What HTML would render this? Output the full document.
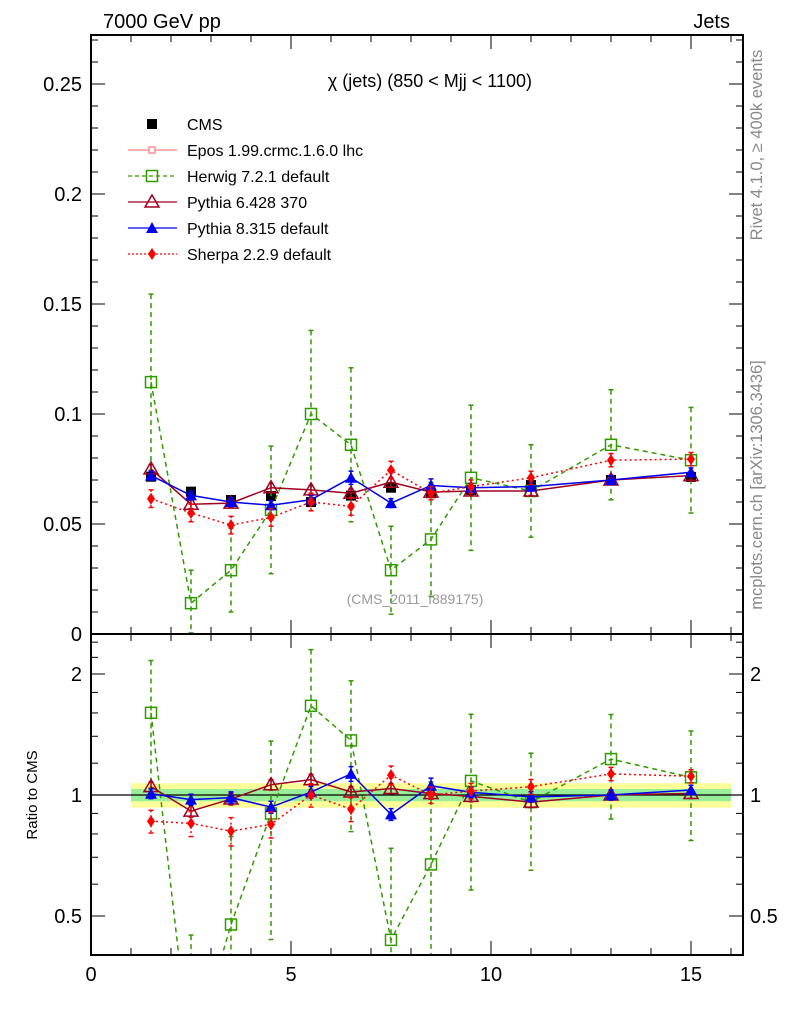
<!DOCTYPE html>
<html><head><meta charset="utf-8"><style>
html,body{margin:0;padding:0;background:#fff;overflow:hidden;width:786px;height:1024px;}
svg{display:block;font-family:"Liberation Sans",sans-serif;}
</style></head><body>
<svg id="c" width="786" height="1024" xmlns="http://www.w3.org/2000/svg"></svg>
<script>
const xCenters=[1.5,2.5,3.5,4.5,5.5,6.5,7.5,8.5,9.5,11,13,15];
const xLo=[1,2,3,4,5,6,7,8,9,10,12,14];
const xHi=[2,3,4,5,6,7,8,9,10,12,14,16];
const cmsVals=[0.0715,0.0647,0.0609,0.0627,0.0600,0.0629,0.0665,0.0640,0.0655,0.0677,0.0700,0.0714];
const herwigVals=[0.1145,0.0140,0.0290,0.0564,0.1000,0.0860,0.0290,0.0430,0.0710,0.0650,0.0860,0.0790];
const herwigErr=[0.040,0.015,0.019,0.029,0.038,0.035,0.020,0.026,0.033,0.021,0.025,0.024];
const pythia6Vals=[0.0750,0.0590,0.0595,0.0665,0.0655,0.0640,0.0690,0.0645,0.0650,0.0650,0.0700,0.0720];
const pythia6Err=[0.002,0.002,0.002,0.002,0.002,0.002,0.002,0.002,0.002,0.002,0.002,0.002];
const pythia8Vals=[0.0720,0.0630,0.0600,0.0585,0.0610,0.0710,0.0595,0.0675,0.0665,0.0670,0.0700,0.0735];
const pythia8Err=[0.002,0.002,0.002,0.002,0.002,0.003,0.002,0.003,0.002,0.002,0.002,0.002];
const sherpaVals=[0.0615,0.0550,0.0495,0.0530,0.0600,0.0580,0.0745,0.0640,0.0670,0.0710,0.0790,0.0795];
const sherpaErr=[0.004,0.004,0.004,0.004,0.004,0.004,0.004,0.003,0.003,0.003,0.003,0.003];
const yTicksMain=[0,0.05,0.1,0.15,0.2,0.25];
const yTickLabelsMain=["0","0.05","0.1","0.15","0.2","0.25"];
const ratioTicks=[0.5,1,2];
const ratioTickLabels=["0.5","1","2"];
const xTicks=[0,5,10,15];

const NS="http://www.w3.org/2000/svg";
const svg=document.getElementById('c');
const L=91,R=743,T=35,MB=634,RB=955;
const X=v=>L+v*40;
const Y=v=>MB-v*2200;
const YR=r=>795-121*Math.log2(r);
function mk(tag,attrs,parent){const e=document.createElementNS(NS,tag);for(const k in attrs)e.setAttribute(k,attrs[k]);(parent||svg).appendChild(e);return e;}
function txt(s,x,y,size,anchor,fill,extra){const t=mk('text',Object.assign({x:x,y:y,'font-size':size,'text-anchor':anchor||'start',fill:fill||'#000'},extra||{}));t.textContent=s;return t;}
const clipD=mk('defs',{});
const cp1=mk('clipPath',{id:'cm'},clipD);mk('rect',{x:L,y:T,width:R-L,height:MB-T},cp1);
const cp2=mk('clipPath',{id:'cr'},clipD);mk('rect',{x:L,y:MB,width:R-L,height:RB-MB},cp2);

const gBand=mk('g',{'clip-path':'url(#cr)'});


xLo.forEach((lo,i)=>{
  mk('rect',{x:X(lo),y:YR(1.07),width:X(xHi[i])-X(lo),height:YR(0.93)-YR(1.07),fill:'#ffff99'},gBand);
  mk('rect',{x:X(lo),y:YR(1.035),width:X(xHi[i])-X(lo),height:YR(0.965)-YR(1.035),fill:'#99ee99'},gBand);
});
mk('line',{x1:L,x2:R,y1:YR(1),y2:YR(1),stroke:'#000','stroke-width':1.3});

const series=[
 {name:'herwig',vals:herwigVals,err:herwigErr,color:'#339900',dash:'5,4',marker:'osq'},
 {name:'pythia6',vals:pythia6Vals,err:pythia6Err,color:'#a00020',dash:'',marker:'otri'},
 {name:'pythia8',vals:pythia8Vals,err:pythia8Err,color:'#0000ee',dash:'',marker:'tri'},
 {name:'sherpa',vals:sherpaVals,err:sherpaErr,color:'#ff0000',dash:'2,3',marker:'dia'}
];
function marker(type,x,y,color,g){
  if(type==='osq')mk('rect',{x:x-5.5,y:y-5.5,width:11,height:11,fill:'none',stroke:color,'stroke-width':1.5},g);
  else if(type==='otri')mk('polygon',{points:`${x},${y-7} ${x-7},${y+5} ${x+7},${y+5}`,fill:'none',stroke:color,'stroke-width':1.5},g);
  else if(type==='tri')mk('polygon',{points:`${x},${y-6} ${x-6},${y+5} ${x+6},${y+5}`,fill:color},g);
  else if(type==='dia')mk('polygon',{points:`${x},${y-6} ${x-4},${y} ${x},${y+6} ${x+4},${y}`,fill:color},g);
  else if(type==='sq')mk('rect',{x:x-5,y:y-5,width:10,height:10,fill:color},g);
}
function drawSeries(s,ratio){
  const g=mk('g',{'clip-path':ratio?'url(#cr)':'url(#cm)'});
  
  
  const yf=ratio?((v,i)=>YR(Math.max(v/cmsVals[i],0.05))):((v)=>Y(v));
  const pts=s.vals.map((v,i)=>X(xCenters[i])+','+yf(v,i)).join(' ');
  mk('polyline',{points:pts,fill:'none',stroke:s.color,'stroke-width':1.5,'stroke-dasharray':s.dash},g);
  s.vals.forEach((v,i)=>{
    const x=X(xCenters[i]);
    const y1=yf(v+s.err[i],i),y2=yf(Math.max(v-s.err[i],0.0005),i);
    mk('line',{x1:x,x2:x,y1:y1,y2:y2,stroke:s.color,'stroke-width':1.5,'stroke-dasharray':s.dash},g);
    mk('line',{x1:x-2.5,x2:x+2.5,y1:y1,y2:y1,stroke:s.color,'stroke-width':1.5},g);
    mk('line',{x1:x-2.5,x2:x+2.5,y1:y2,y2:y2,stroke:s.color,'stroke-width':1.5},g);
    const m=mk('g',{},g);
    
    
    marker(s.marker,x,yf(v,i),s.color,m);
  });
}
const gC=mk('g',{});


cmsVals.forEach((v,i)=>{marker('sq',X(xCenters[i]),Y(v),'#000',gC);});
series.forEach(s=>{drawSeries(s,false);drawSeries(s,true);});

mk('rect',{x:L,y:T,width:R-L,height:MB-T,fill:'none',stroke:'#000','stroke-width':2});
mk('rect',{x:L,y:MB,width:R-L,height:RB-MB,fill:'none',stroke:'#000','stroke-width':2});
for(let v=0;v<=16;v++){
  const major=v%5===0,len=major?14:7;
  [[T,1],[MB,-1],[MB,1],[RB,-1]].forEach(([y0,d])=>mk('line',{x1:X(v),x2:X(v),y1:y0,y2:y0+d*len,stroke:'#000','stroke-width':1}));
}
xTicks.forEach(v=>{const t=txt(String(v),X(v),981,20,'middle');});
for(let k=0;k<=27;k++){const v=k*0.01,y=Y(v),len=k%5===0?14:7;
  mk('line',{x1:L,x2:L+len,y1:y,y2:y,stroke:'#000'});mk('line',{x1:R,x2:R-len,y1:y,y2:y,stroke:'#000'});}
yTicksMain.forEach((v,i)=>{const t=txt(yTickLabelsMain[i],82,Y(v)+7,20,'end');});
[0.4,0.5,0.6,0.7,0.8,0.9,1,1.2,1.4,1.6,1.8,2,2.2,2.4].forEach(r=>{const y=YR(r),len=(r===0.5||r===1||r===2)?14:7;
  mk('line',{x1:L,x2:L+len,y1:y,y2:y,stroke:'#000'});mk('line',{x1:R,x2:R-len,y1:y,y2:y,stroke:'#000'});});
ratioTicks.forEach((r,i)=>{
  const a=txt(ratioTickLabels[i],82,YR(r)+7,20,'end');
  const b=txt(ratioTickLabels[i],750,YR(r)+7,20,'start');
});
let t;
t=txt('7000 GeV pp',103,28,20);
t=txt('Jets',730,28,20,'end');
t=txt('χ (jets) (850 < Mjj < 1100)',532,87,18,'end');
t=txt('(CMS_2011_I889175)',415,604,14,'middle','#999');
t=txt('Ratio to CMS',37,795,15,'middle','#000',{transform:'rotate(-90 37 795)'});
t=txt('Rivet 4.1.0, ≥ 400k events',762,145,16.5,'middle','#888',{transform:'rotate(-90 762 145)'});
t=txt('mcplots.cern.ch [arXiv:1306.3436]',762,485,16.5,'middle','#888',{transform:'rotate(-90 762 485)'});
const leg=[
 {label:'CMS',color:'#000',dash:'',marker:'sq',line:false},
 {label:'Epos 1.99.crmc.1.6.0 lhc',color:'#ff8080',dash:'',marker:'eps',line:true},
 {label:'Herwig 7.2.1 default',color:'#339900',dash:'4,3',marker:'osq',line:true},
 {label:'Pythia 6.428 370',color:'#a00020',dash:'',marker:'otri',line:true},
 {label:'Pythia 8.315 default',color:'#0000ee',dash:'',marker:'tri',line:true},
 {label:'Sherpa 2.2.9 default',color:'#ff0000',dash:'2,2',marker:'dia',line:true}
];
leg.forEach((e,i)=>{
  const y=124+i*26;
  const g=mk('g',{});
  
  
  if(e.line)mk('line',{x1:128,x2:177,y1:y,y2:y,stroke:e.color,'stroke-width':1.3,'stroke-dasharray':e.dash},g);
  if(e.marker==='eps'){mk('rect',{x:149,y:y-3,width:6,height:6,fill:'#fff',stroke:e.color,'stroke-width':1.3},g);}
  else marker(e.marker,152,y,e.color,g);
  txt(e.label,187,y+6,16,'start','#000');
});
</script>
</body></html>
